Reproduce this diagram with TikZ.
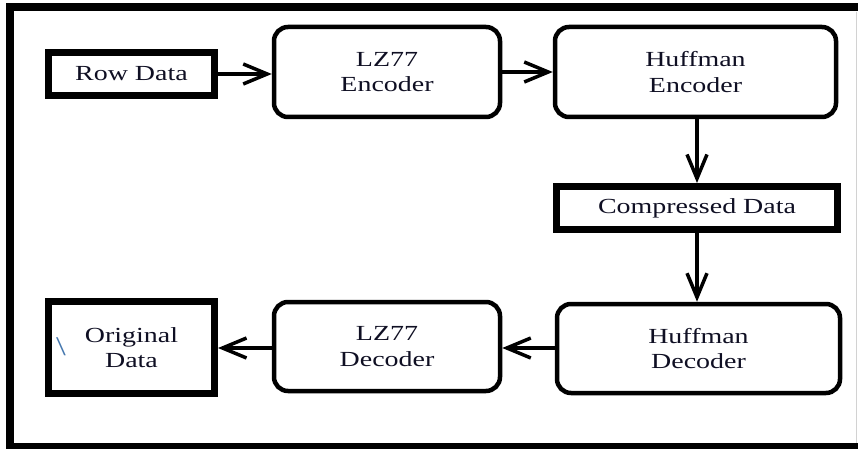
\documentclass[tikz,border=0pt]{standalone}
\usepackage{fontspec}
\setmainfont[FakeStretch=1.3]{Liberation Serif}
\usetikzlibrary{arrows.meta}
\definecolor{txt}{RGB}{15,15,35}
\definecolor{bsl}{RGB}{70,120,175}
\tikzset{
  lbl/.style={font=\fontsize{21.5}{25.3}\selectfont, text=txt, align=center, inner sep=0pt},
  rbox/.style={lbl, draw=black, line width=4.5pt, rounded corners=14pt},
  sbox/.style={lbl, draw=black, line width=7pt},
  flow/.style={line width=3.5pt, -{Straight Barb[length=24pt,width=20pt,line width=3.5pt]}},
  frame/.style={line width=8pt, line cap=butt}
}
\begin{document}
\begin{tikzpicture}[x=1pt,y=1pt]
\useasboundingbox (0,0) rectangle (858,-449);
\fill[white] (0,0) rectangle (858,-449);
\draw[frame] (860,-7.5) -- (10,-7.5) -- (10,-447) -- (860,-447);
\draw[gray!35, line width=0.8pt] (856.5,-12) -- (856.5,-443);

\node[sbox, minimum width=166pt, minimum height=43pt] (row) at (131.5,-74) {Row Data};
\node[rbox, minimum width=226pt, minimum height=90pt] (lze) at (387,-72) {LZ77\\Encoder};
\node[rbox, minimum width=281pt, minimum height=90pt] (hfe) at (695.5,-72) {Huffman\\Encoder};
\node[sbox, minimum width=281pt, minimum height=43pt] (cmp) at (697,-208) {Compressed Data};
\node[rbox, minimum width=283pt, minimum height=89pt] (hfd) at (698.5,-348.5) {Huffman\\Decoder};
\node[rbox, minimum width=226pt, minimum height=89pt] (lzd) at (387,-346.5) {LZ77\\Decoder};
\node[sbox, minimum width=166pt, minimum height=92pt] (org) at (131.5,-347.5) {Original\\Data};
\node[lbl, text=bsl, font=\fontsize{27}{30}\selectfont] (bs) at (61,-347) {\textbackslash};

\draw[flow] (row.east) -- (row.east -| lze.west);
\draw[flow] (lze.east) -- (hfe.west);
\draw[flow] (hfe.south -| cmp.north) -- (cmp.north);
\draw[flow] (cmp.south) -- (cmp.south |- hfd.north);
\draw[flow] (hfd.west |- 0,-348) -- (lzd.east |- 0,-348);
\draw[flow] (lzd.west |- 0,-348) -- (org.east |- 0,-348);
\end{tikzpicture}
\end{document}
